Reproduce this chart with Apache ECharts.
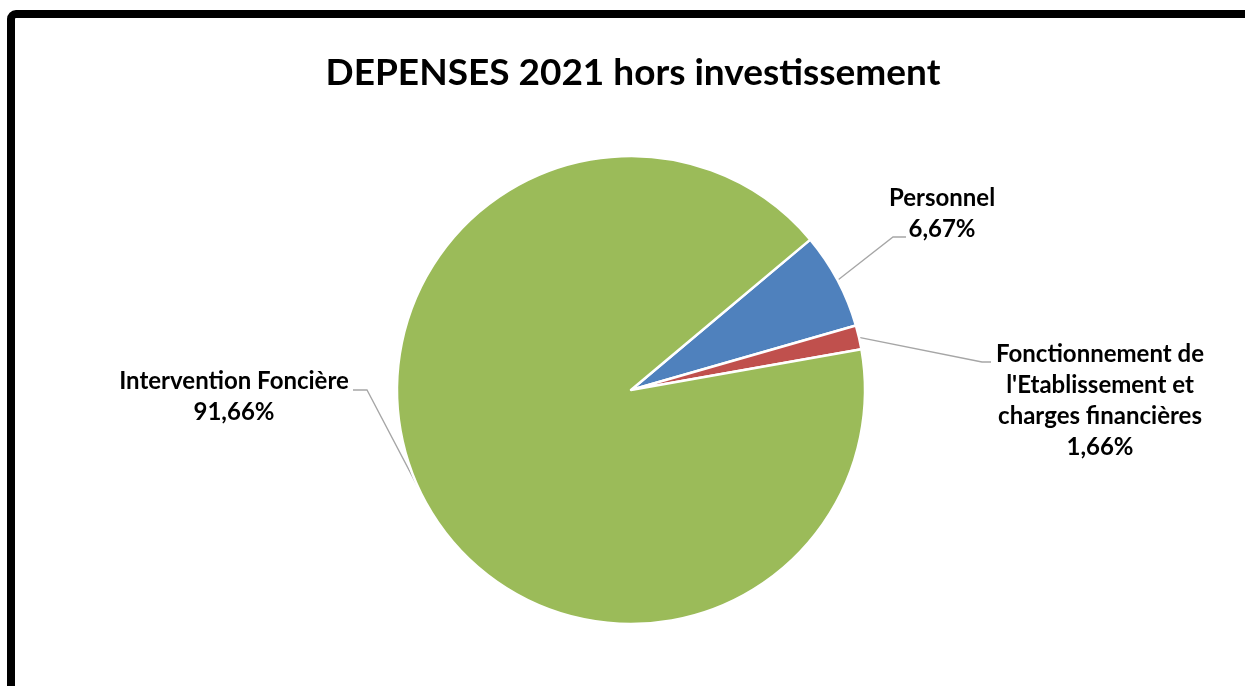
<!DOCTYPE html>
<html>
<head>
<meta charset="utf-8">
<title>DEPENSES 2021 hors investissement</title>
<script src="https://cdn.jsdelivr.net/npm/echarts@6/dist/echarts.min.js"></script>
<style>
  html, body { margin: 0; padding: 0; background: #ffffff; }
  #chart { width: 1245px; height: 686px; }
</style>
</head>
<body>
<div id="chart"></div>
<script>
// Spending breakdown for 2021, investment excluded (percent of total)
const categories = [
  'Personnel',
  "Fonctionnement de\nl'Etablissement et\ncharges financières",
  'Intervention Foncière'
];
const shares = [6.67, 1.66, 91.66];
const sliceColors = ['#4F81BD', '#C0504D', '#9BBB59'];

const PIE_CENTER = [631, 390];
const PIE_RADIUS = 234;
const START_ANGLE = 40;
const FONT = 'Lato, "Open Sans", sans-serif';

// Where each label sits (text centre) and how its leader line bends
// into it: end point relative to the label centre, then a short
// horizontal run of elbowDx back towards the slice.
const labelPlacement = [
  { x: 942, y: 214, endDx: -36, endDy: 23, elbowDx: -13 },
  { x: 1100, y: 401, endDx: -109, endDy: -39, elbowDx: -9 },
  { x: 234, y: 397, endDx: 119, endDy: -7, elbowDx: 14 }
];

// Point on the rim at the middle of slice i (clockwise from START_ANGLE)
function rimAnchor(i) {
  const total = shares.reduce((a, b) => a + b, 0);
  let before = 0;
  for (let k = 0; k < i; k++) before += shares[k];
  const mid = (START_ANGLE - 360 * (before + shares[i] / 2) / total) * Math.PI / 180;
  return [PIE_CENTER[0] + PIE_RADIUS * Math.cos(mid), PIE_CENTER[1] - PIE_RADIUS * Math.sin(mid)];
}

function formatShare(v) {
  return v.toFixed(2).replace('.', ',') + '%';
}

const chart = echarts.init(document.getElementById('chart'), null, { renderer: 'canvas' });

chart.setOption({
  backgroundColor: '#ffffff',
  animation: false,
  title: {
    text: 'DEPENSES 2021 hors investissement',
    left: 628,
    top: 50,
    textAlign: 'center',
    textStyle: { fontFamily: FONT, fontWeight: 'bold', fontSize: 37, color: '#000000' }
  },
  graphic: [{
    type: 'rect',
    silent: true,
    shape: { x: 11, y: 14, width: 1400, height: 800, r: 5 },
    style: { fill: 'none', stroke: '#000000', lineWidth: 8 }
  }],
  series: [{
    type: 'pie',
    center: PIE_CENTER,
    radius: PIE_RADIUS,
    startAngle: START_ANGLE,
    clockwise: true,
    avoidLabelOverlap: false,
    data: categories.map((name, i) => ({
      name: name,
      value: shares[i],
      itemStyle: { color: sliceColors[i] }
    })),
    itemStyle: { borderColor: '#ffffff', borderWidth: 2.5 },
    label: {
      show: true,
      position: 'outside',
      formatter: p => p.name + '\n' + formatShare(p.value),
      fontFamily: FONT,
      fontWeight: 'bold',
      fontSize: 24,
      lineHeight: 31,
      color: '#000000',
      align: 'center'
    },
    labelLine: {
      show: true,
      lineStyle: { color: '#A6A6A6', width: 1.3 }
    },
    labelLayout: params => {
      const i = params.dataIndex;
      const p = labelPlacement[i];
      const anchor = (params.labelLinePoints && params.labelLinePoints[0]) || rimAnchor(i);
      const end = [p.x + p.endDx, p.y + p.endDy];
      const elbow = [end[0] + p.elbowDx, end[1]];
      return {
        x: p.x,
        y: p.y,
        align: 'center',
        verticalAlign: 'middle',
        labelLinePoints: [anchor, elbow, end]
      };
    },
    emphasis: { disabled: true }
  }]
});
</script>
</body>
</html>
